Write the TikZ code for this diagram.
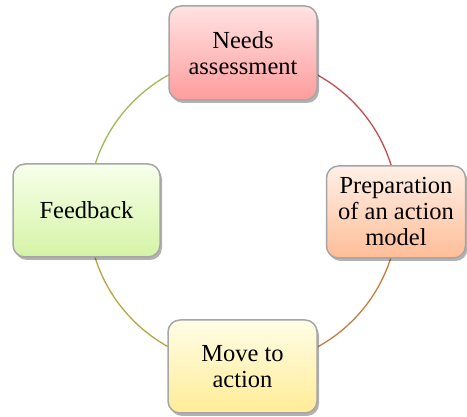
\documentclass[tikz,border=0pt]{standalone}
\usepackage{fontspec}
\setmainfont{Liberation Serif}
\usetikzlibrary{shadows}
\definecolor{boxgray}{HTML}{A6A6A6}
\definecolor{needsA}{HTML}{FFE3E3}
\definecolor{needsB}{HTML}{FF9C9C}
\definecolor{prepA}{HTML}{FFF0E6}
\definecolor{prepB}{HTML}{FFBD98}
\definecolor{moveA}{HTML}{FFFDE6}
\definecolor{moveB}{HTML}{FFEC96}
\definecolor{feedA}{HTML}{F7FFEA}
\definecolor{feedB}{HTML}{D5F4A6}
\definecolor{lineRed}{HTML}{C0504D}
\definecolor{lineOrange}{HTML}{C87D3E}
\definecolor{lineOlive}{HTML}{B5A640}
\definecolor{lineGreen}{HTML}{9BBB59}
\tikzset{
    stage/.style 2 args={rectangle,rounded corners=12pt,draw=boxgray,line width=1.5pt,
        top color=#1,bottom color=#2,align=center,inner sep=0pt,
        font=\rmfamily\fontsize{24.5}{26}\selectfont,
        drop shadow={shadow xshift=2pt,shadow yshift=-3pt,opacity=0.3,fill=black}},
    link/.style={draw=#1,line width=1.3pt}
}

\begin{document}
\begin{tikzpicture}[x=1pt,y=-1pt]
  \useasboundingbox (0,0) rectangle (467,417);
  \coordinate (c) at (243, 211);

  \draw[link=lineRed]    (c) ++(-90:155) arc (-90:0:155);
  \draw[link=lineOrange] (c) ++(0:155)   arc (0:90:155);
  \draw[link=lineOlive]  (c) ++(90:155)  arc (90:180:155);
  \draw[link=lineGreen]  (c) ++(180:155) arc (180:270:155);

  \node[stage={needsA}{needsB},minimum width=148pt,minimum height=94pt] (needs) at (243, 53)    {Needs\\assessment};
  \node[stage={prepA}{prepB},minimum width=139pt,minimum height=92pt]   (prep)  at (396, 212)   {Preparation\\of an action\\model};
  \node[stage={moveA}{moveB},minimum width=149pt,minimum height=93pt]   (move)  at (242.5, 366.5) {Move to\\action};
  \node[stage={feedA}{feedB},minimum width=147pt,minimum height=93pt]   (feed)  at (86.5, 210.5)  {Feedback};
\end{tikzpicture}
\end{document}
